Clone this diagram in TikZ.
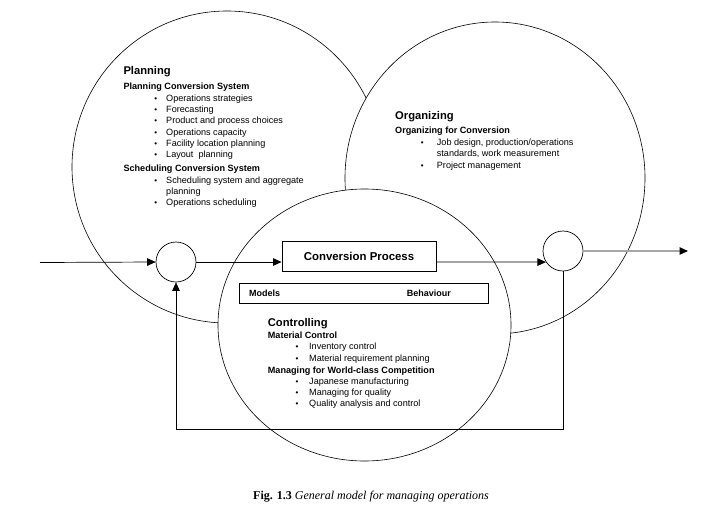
\documentclass[tikz,border=0pt]{standalone}
\usepackage{fontspec}
\setmainfont{Liberation Sans}
\newfontfamily\capfont{Liberation Serif}
\usetikzlibrary{arrows.meta,positioning}

\tikzset{
  ring/.style={draw, line width=0.6pt, fill=white},
  junction/.style={draw, circle, minimum size=40pt, inner sep=0pt, line width=0.7pt},
  procbox/.style={draw, line width=0.9pt, inner sep=0pt},
  headtxt/.style={anchor=base west, inner sep=0pt, font=\fontsize{11.2}{13}\selectfont\bfseries},
  subtxt/.style={anchor=base west, inner sep=0pt, font=\fontsize{9.1}{11}\selectfont\bfseries},
  itemtxt/.style={anchor=base west, inner sep=0pt, font=\fontsize{9.1}{11}\selectfont},
  dot/.style={anchor=base, inner sep=0pt, font=\fontsize{8}{10}\selectfont},
  flow/.style={-{Triangle[length=8.5pt,width=7.5pt]}, line width=0.7pt},
}

\begin{document}
\begin{tikzpicture}[x=1pt, y=-1pt]
    \useasboundingbox (0,0) rectangle (704,517);

    % the three big rings
    \draw[ring] (227,167) ellipse [x radius=155pt, y radius=156pt];
    \draw[ring] (495,178) ellipse [x radius=150pt, y radius=156pt];
    \draw[ring] (364.5,325) ellipse [x radius=146.5pt, y radius=136pt];

    % Planning
    \node[headtxt] (plan) at (123.3,74.7) {Planning};
    \node[subtxt] (planSys) at (123.3,89.3) {Planning Conversion System};
    \foreach \yy/\txt [count=\i] in {101.6/Operations strategies, 112.6/Forecasting,
        123.6/Product and process choices, 135/Operations capacity,
        146.6/Facility location planning, 157.6/Layout\ \ planning} {
        \node[dot] (pb\i) at (155.7,\yy) {\textbullet};
        \node[itemtxt] (pi\i) at (166,\yy) {\txt};
    }
    \node[subtxt] (schedSys) at (123.3,171) {Scheduling Conversion System};
    \node[dot] (sb1) at (155.7,183.3) {\textbullet};
    \node[itemtxt] (si1) at (166,183.3) {Scheduling system and aggregate};
    \node[itemtxt] (si1b) at (166,194.6) {planning};
    \node[dot] (sb2) at (155.7,205.6) {\textbullet};
    \node[itemtxt] (si2) at (166,205.6) {Operations scheduling};

    % Organizing
    \node[headtxt] (org) at (395,119) {Organizing};
    \node[subtxt] (orgConv) at (395,133.3) {Organizing for Conversion};
    \node[dot] (ob1) at (422.3,145.6) {\textbullet};
    \node[itemtxt] (oi1) at (436.7,145.6) {Job design, production/operations};
    \node[itemtxt] (oi1b) at (436.7,156.6) {standards, work measurement};
    \node[dot] (ob2) at (422.3,168.3) {\textbullet};
    \node[itemtxt] (oi2) at (436.7,168.3) {Project management};

    % Controlling
    \node[headtxt] (ctrl) at (267.7,326.7) {Controlling};
    \node[subtxt] (matCtrl) at (267.7,338.3) {Material Control};
    \foreach \yy/\txt [count=\i] in {349.3/Inventory control, 361.3/Material requirement planning} {
        \node[dot] (mb\i) at (297,\yy) {\textbullet};
        \node[itemtxt] (mi\i) at (309,\yy) {\txt};
    }
    \node[subtxt] (world) at (267.7,373.3) {Managing for World-class Competition};
    \foreach \yy/\txt [count=\i] in {384.3/Japanese manufacturing, 395.3/Managing for quality,
        406.3/Quality analysis and control} {
        \node[dot] (wb\i) at (297,\yy) {\textbullet};
        \node[itemtxt] (wi\i) at (309,\yy) {\txt};
    }

    % process boxes
    \node[procbox, minimum width=154pt, minimum height=30pt,
          font=\fontsize{11.4}{13}\selectfont\bfseries] (conv) at (359,256.7) {Conversion Process};
    \node[procbox, minimum width=249pt, minimum height=20pt] (mb) at (363.8,293.3) {};
    \node[subtxt, font=\fontsize{9}{11}\selectfont\bfseries] (models) at (249,296.5) {Models};
    \node[subtxt, anchor=base east, font=\fontsize{9}{11}\selectfont\bfseries] (behav) at (451,296.5) {Behaviour};

    % junctions
    \node[junction] (sumL) at (176,262) {};
    \node[junction] (sumR) at (563,251) {};
    \coordinate (inL) at (40,262.5);
    \coordinate (outR) at (688,251);
    \coordinate (loop) at (0,429);

    % connectors
    \draw[flow] (inL) -- (sumL.west);
    \draw[flow] (sumL.east) -- (sumL -| conv.west);
    \draw[flow] (conv.east |- sumL) -- (sumR.213);
    \draw[flow, draw=gray!70, line width=1.1pt, -{Triangle[length=8.5pt,width=7.5pt,color=black]}] (sumR.east) -- (outR);
    \draw[flow] (sumR.south) -- (sumR.south |- loop) -| (sumL.south);

    % caption
    \node[anchor=base west, inner sep=0pt, font=\capfont\fontsize{12}{14}\selectfont] (cap) at (253,499.5)
        {\textbf{Fig. 1.3} \textit{General model for managing operations}};

\end{tikzpicture}
\end{document}
